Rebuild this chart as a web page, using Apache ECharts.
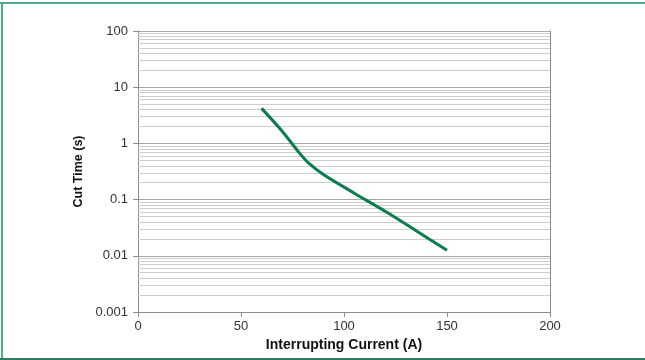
<!DOCTYPE html>
<html>
<head>
<meta charset="utf-8">
<script src="https://cdn.jsdelivr.net/npm/echarts@6/dist/echarts.min.js"></script>
<style>
html, body { margin: 0; padding: 0; background: #fff; }
#chart { width: 645px; height: 360px; }
</style>
</head>
<body>
<div id="chart"></div>
<script>
// curve
const currentA = [60, 70, 78, 83, 90, 105, 120, 135, 150];
const cutTimeS = [4.2, 1.65, 0.7, 0.44, 0.28, 0.13, 0.062, 0.028, 0.0125];
const xTicks = [0, 50, 100, 150, 200];
const decades = [0.001, 0.01, 0.1, 1, 10];

const green = '#0b7d4c';
const chart = echarts.init(document.getElementById('chart'));

// minor grid lines at 2..9 of each decade, drawn across the whole x range
const minorLines = [];
decades.forEach(d => {
    for (let k = 2; k <= 9; k++) {
        const v = +(d * k).toPrecision(3);
        minorLines.push([{ coord: [xTicks[0], v] }, { coord: [xTicks[xTicks.length - 1], v] }]);
    }
});

const font = 'Liberation Sans, Arial, sans-serif';

chart.setOption({
    animation: false,
    grid: { left: 138, right: 95, top: 31, bottom: 48 },
    xAxis: {
        type: 'value',
        min: xTicks[0], max: xTicks[xTicks.length - 1], interval: 50,
        name: 'Interrupting Current (A)',
        nameLocation: 'middle', nameGap: 22,
        nameTextStyle: { fontFamily: font, fontWeight: 'bold', fontSize: 14, color: '#111' },
        axisLine: { show: true, lineStyle: { color: '#8c8c8c' } },
        axisTick: { show: true, length: 5, lineStyle: { color: '#8c8c8c' } },
        axisLabel: { fontFamily: font, fontSize: 13, color: '#333', margin: 8 },
        splitLine: { show: false }
    },
    yAxis: [{
        type: 'log', logBase: 10,
        min: 0.001, max: 100,
        name: 'Cut Time (s)',
        nameLocation: 'middle', nameGap: 41, nameRotate: 90,
        nameTextStyle: { fontFamily: font, fontWeight: 'bold', fontSize: 12.5, color: '#111' },
        axisLine: { show: true, lineStyle: { color: '#8c8c8c' } },
        axisTick: { show: true, length: 5, lineStyle: { color: '#8c8c8c' } },
        axisLabel: {
            fontFamily: font, fontSize: 13, color: '#333', margin: 10,
            formatter: v => String(+v.toPrecision(3))
        },
        splitLine: { show: true, lineStyle: { color: '#a8a8a8', width: 1 } }
    }, {
        type: 'log', position: 'right', min: 0.001, max: 100,
        axisLine: { show: true, lineStyle: { color: '#8c8c8c' } },
        axisTick: { show: false }, axisLabel: { show: false }, splitLine: { show: false }
    }],
    graphic: [
        { type: 'line', shape: { x1: 0, y1: 3, x2: 645, y2: 3 }, style: { stroke: '#4fac87', lineWidth: 2 } },
        { type: 'line', shape: { x1: 2, y1: 2, x2: 2, y2: 360 }, style: { stroke: '#4fac87', lineWidth: 2 } },
        { type: 'line', shape: { x1: 0, y1: 359, x2: 645, y2: 359 }, style: { stroke: '#2a7f5c', lineWidth: 2 } }
    ],
    series: [{
        type: 'line',
        data: currentA.map((x, i) => [x, cutTimeS[i]]),
        smooth: 0.3,
        showSymbol: false,
        lineStyle: { color: green, width: 3 },
        z: 5,
        markLine: {
            silent: true,
            symbol: 'none',
            label: { show: false },
            lineStyle: { type: 'solid', color: '#cdcdcd', width: 1 },
            data: minorLines,
            animation: false,
            z: 1
        }
    }]
});
</script>
</body>
</html>
